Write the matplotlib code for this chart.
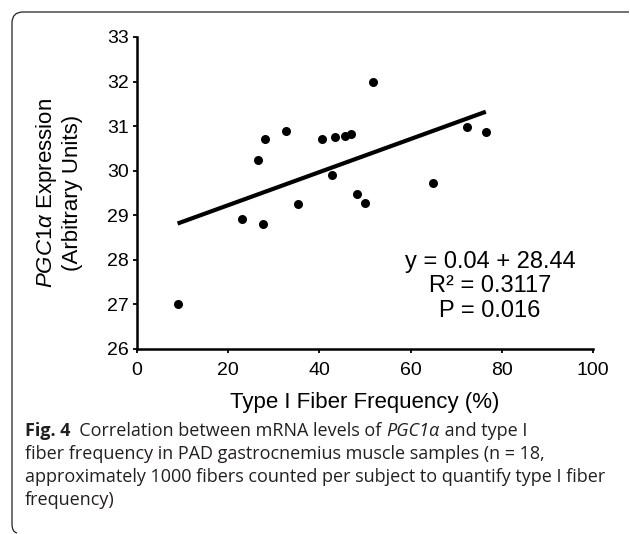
import numpy as np
import matplotlib
matplotlib.use("Agg")
from matplotlib import pyplot as plt
from matplotlib.path import Path
from matplotlib.patches import PathPatch

plt.rcParams['font.family'] = ['Liberation Sans', 'DejaVu Sans']
plt.rcParams['mathtext.fontset'] = 'custom'
plt.rcParams['mathtext.rm'] = 'Liberation Sans'
plt.rcParams['mathtext.it'] = 'Liberation Sans:italic'

# type I fiber frequency (%) vs PGC1a expression
fiber_freq = [8.9, 23.1, 27.7, 26.5, 28.1, 32.6, 35.4, 40.6, 43.4,
              42.8, 45.6, 46.9, 48.3, 49.9, 51.8, 65.0, 72.4, 76.5]
pgc1a_expr = [27.01, 28.92, 28.80, 30.24, 30.71, 30.89, 29.26, 30.71, 30.75,
              29.91, 30.79, 30.82, 29.48, 29.28, 32.00, 29.73, 30.97, 30.86]

x_ticks = [0, 20, 40, 60, 80, 100]
y_ticks = [26, 27, 28, 29, 30, 31, 32, 33]
stats_lines = ["y = 0.04 + 28.44", "R\u00b2 = 0.3117", "P = 0.016"]

caption_lines = [
    "fiber frequency in PAD gastrocnemius muscle samples (n = 18,",
    "approximately 1000 fibers counted per subject to quantify type I fiber",
    "frequency)",
]

W, H = 630, 534
fig = plt.figure(figsize=(W / 100, H / 100), dpi=100)
bg = fig.add_axes([0, 0, 1, 1])
bg.set_xlim(0, W)
bg.set_ylim(H, 0)
bg.axis('off')

# open frame: top + left edge with rounded corners
verts = [(629, 12), (23, 12), (12, 12), (12, 23), (12, 524), (12, 532), (17, 533)]
codes = [Path.MOVETO, Path.LINETO, Path.CURVE3, Path.CURVE3, Path.LINETO, Path.CURVE3, Path.CURVE3]
bg.add_patch(PathPatch(Path(verts, codes), facecolor='none', edgecolor='#222222', lw=0.9))

ax = fig.add_axes([137 / W, 1 - 349 / H, (593 - 137) / W, (349 - 37) / H])
ax.scatter(fiber_freq, pgc1a_expr, s=30, color='black', zorder=3)

# linear fit
slope, icpt = np.polyfit(fiber_freq, pgc1a_expr, 1)
xf = np.array([min(fiber_freq), max(fiber_freq)])
ax.plot(xf, slope * xf + icpt, color='black', lw=3, solid_capstyle='butt')

ax.set_xlim(0, 100)
ax.set_ylim(26, 33)
ax.set_xticks(x_ticks)
ax.set_yticks(y_ticks)
for s in ['top', 'right']:
    ax.spines[s].set_visible(False)
for s in ['left', 'bottom']:
    ax.spines[s].set_linewidth(1.8)
ax.tick_params(direction='out', length=3, width=1.3, labelsize=14, pad=3)
ax.tick_params(axis='x', pad=6.5)
ax.set_xlabel("Type I Fiber Frequency (%)", fontsize=16, labelpad=9)
ax.set_ylabel("$\\mathit{PGC1\u03b1}$ Expression\n(Arbitrary Units)", fontsize=16,
              labelpad=17, linespacing=1.2)

for i, t in enumerate(stats_lines):
    ax.text(490, 262 + 24.5 * i, t, transform=bg.transData, ha='center', va='center', fontsize=17)

# caption
cap_font = ['Open Sans', 'DejaVu Sans']
cap_col = '#231f20'
cs = 13
t0 = bg.text(25, 436, "Fig. 4", fontsize=cs, fontweight='bold', family=cap_font,
             va='baseline', color=cap_col)
t1 = bg.annotate("  Correlation between mRNA levels of ", xy=(1, 0), xycoords=t0, va='bottom',
                 fontsize=cs, family=cap_font, color=cap_col)
t2 = bg.annotate("PGC1\u03b1", xy=(1, 0), xycoords=t1, va='bottom', fontsize=cs,
                 family=cap_font, style='italic', color=cap_col)
bg.annotate(" and type I", xy=(1, 0), xycoords=t2, va='bottom', fontsize=cs,
            family=cap_font, color=cap_col)
for i, line in enumerate(caption_lines):
    bg.text(25, 436 + 23 * (i + 1), line, fontsize=cs, family=cap_font, va='baseline', color=cap_col)

fig.savefig("out.png", dpi=100)
